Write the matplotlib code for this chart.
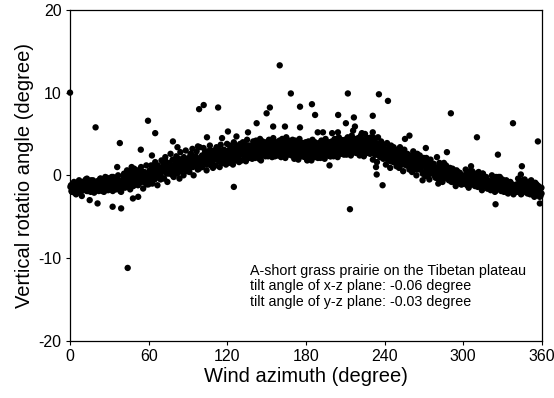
import matplotlib
matplotlib.use("Agg")
import matplotlib.pyplot as plt

plt.rcParams['font.family'] = ['Liberation Sans', 'DejaVu Sans']
plt.rcParams['axes.unicode_minus'] = False

# Dense band of points (wind azimuth in degree, vertical rotation angle in degree)
band_az = [
    0.3, 1.1, 1.8, 2.6, 3.3, 4.2, 4.9, 5.7, 6.5, 7.2, 8.1, 9.0, 9.6,
    10.4, 11.2, 12.0, 12.7, 13.5, 14.3, 15.1, 15.8, 16.6, 17.5, 18.3, 19.1, 19.8,
    20.3, 21.0, 21.9, 22.6, 23.4, 24.2, 25.0, 25.9, 26.7, 27.4, 28.2, 29.1, 29.7,
    30.2, 31.1, 31.8, 32.6, 33.5, 34.2, 35.0, 35.8, 36.7, 37.5, 38.2, 39.0, 39.8,
    40.4, 41.2, 41.9, 42.8, 43.5, 44.3, 45.1, 45.9, 46.6, 47.4, 48.3, 49.0, 49.7,
    50.3, 51.0, 51.9, 52.7, 53.4, 54.2, 55.1, 55.8, 56.6, 57.5, 58.2, 59.0, 59.8,
    60.4, 61.1, 61.9, 62.8, 63.5, 64.3, 65.0, 65.9, 66.7, 67.4, 68.2, 69.1, 69.8,
    70.2, 71.0, 71.8, 72.7, 73.4, 74.3, 75.0, 75.8, 76.7, 77.4, 78.3, 79.1, 79.8,
    80.3, 81.1, 81.9, 82.6, 83.5, 84.2, 85.0, 85.9, 86.6, 87.4, 88.3, 89.0, 89.8,
    90.4, 91.1, 91.9, 92.7, 93.4, 94.3, 95.1, 95.8, 96.6, 97.5, 98.2, 99.0, 99.8,
    100.3, 101.0, 101.9, 102.7, 103.4, 104.2, 105.1, 105.8, 106.7, 107.4, 108.2, 109.1, 109.8,
    110.2, 111.1, 111.8, 112.6, 113.5, 114.2, 115.0, 115.9, 116.7, 117.4, 118.3, 119.0, 119.8,
    120.4, 121.1, 121.9, 122.7, 123.4, 124.3, 125.0, 125.8, 126.7, 127.5, 128.2, 129.0, 129.8,
    130.3, 131.0, 131.9, 132.6, 133.5, 134.2, 135.1, 135.9, 136.6, 137.4, 138.3, 139.0, 139.8,
    140.4, 141.2, 141.9, 142.8, 143.5, 144.3, 145.0, 145.9, 146.6, 147.5, 148.2, 149.1, 149.8,
    150.2, 151.1, 151.8, 152.7, 153.4, 154.2, 155.1, 155.9, 156.6, 157.5, 158.2, 159.0, 159.8,
    160.3, 161.0, 161.9, 162.6, 163.5, 164.3, 165.0, 165.8, 166.7, 167.4, 168.3, 169.1, 169.8,
    170.4, 171.1, 171.9, 172.7, 173.4, 174.2, 175.1, 175.9, 176.6, 177.4, 178.3, 179.0, 179.8,
    180.2, 181.0, 181.9, 182.6, 183.5, 184.2, 185.0, 185.9, 186.7, 187.4, 188.2, 189.1, 189.8,
    190.3, 191.1, 191.8, 192.7, 193.4, 194.3, 195.0, 195.8, 196.6, 197.5, 198.2, 199.0, 199.8,
    200.4, 201.1, 201.9, 202.6, 203.5, 204.2, 205.1, 205.8, 206.7, 207.5, 208.2, 209.0, 209.8,
    210.2, 211.0, 211.9, 212.7, 213.4, 214.3, 215.0, 215.8, 216.7, 217.4, 218.3, 219.1, 219.8,
    220.3, 221.0, 221.9, 222.6, 223.5, 224.2, 225.1, 225.9, 226.6, 227.4, 228.3, 229.0, 229.8,
    230.4, 231.1, 231.9, 232.7, 233.4, 234.2, 235.0, 235.9, 236.6, 237.4, 238.3, 239.0, 239.8,
    240.2, 241.0, 241.9, 242.6, 243.5, 244.3, 245.0, 245.8, 246.7, 247.5, 248.2, 249.1, 249.8,
    250.3, 251.1, 251.8, 252.7, 253.4, 254.2, 255.1, 255.9, 256.6, 257.4, 258.3, 259.0, 259.8,
    260.4, 261.0, 261.9, 262.7, 263.4, 264.3, 265.0, 265.8, 266.7, 267.4, 268.3, 269.1, 269.8,
    270.2, 271.1, 271.9, 272.6, 273.5, 274.2, 275.1, 275.8, 276.7, 277.5, 278.2, 279.0, 279.8,
    280.3, 281.0, 281.9, 282.7, 283.4, 284.2, 285.0, 285.9, 286.6, 287.4, 288.3, 289.1, 289.8,
    290.4, 291.1, 291.9, 292.6, 293.5, 294.3, 295.0, 295.8, 296.7, 297.5, 298.2, 299.0, 299.8,
    300.2, 301.0, 301.9, 302.7, 303.4, 304.2, 305.1, 305.9, 306.6, 307.4, 308.3, 309.0, 309.8,
    310.3, 311.1, 311.8, 312.7, 313.4, 314.3, 315.0, 315.8, 316.6, 317.5, 318.2, 319.1, 319.8,
    320.4, 321.0, 321.9, 322.6, 323.5, 324.2, 325.1, 325.9, 326.6, 327.4, 328.3, 329.0, 329.8,
    330.2, 331.1, 331.9, 332.7, 333.4, 334.3, 335.0, 335.8, 336.7, 337.5, 338.2, 339.0, 339.8,
    340.3, 341.0, 341.9, 342.6, 343.5, 344.2, 345.1, 345.9, 346.6, 347.4, 348.3, 349.1, 349.8,
    350.4, 351.1, 351.9, 352.7, 353.4, 354.3, 355.0, 355.8, 356.7, 357.4, 358.2, 359.0, 359.7,
]
band_angle = [
    -1.4, -1.9, -1.1, -1.7, -2.1, -1.3, -1.6, -0.9, -1.8, -1.2, -2.0, -1.5, -0.8,
    -1.0, -1.6, -0.5, -1.9, -1.2, -0.8, -1.5, -2.0, -1.1, -0.6, -1.7, -1.3, -0.9,
    -1.5, -0.7, -1.9, -1.1, -0.4, -1.6, -1.3, -2.0, -0.9, -1.4, -0.3, -1.8, -1.0,
    -0.8, -1.5, -0.2, -1.9, -1.1, -0.5, -1.7, -1.2, 0.0, -1.4, -0.7, -2.0, -0.9,
    -0.9, 0.2, -1.5, -0.4, 0.6, -1.1, -0.2, -1.7, 0.4, -0.7, -1.3, 0.8, -0.1,
    -0.5, 0.6, -1.2, 0.1, -0.8, 1.0, -0.3, -1.6, 0.4, -0.9, 1.2, -0.1, -1.1,
    0.3, -0.6, 1.2, -1.0, 0.7, -0.2, 1.6, 0.0, -1.2, 1.0, 0.4, -0.5, 1.8,
    0.5, 1.6, -0.4, 2.2, 0.9, -0.8, 1.3, 0.2, 2.6, 0.7, 1.9, -0.2, 1.1,
    1.0, 2.3, 0.2, 1.6, -0.4, 2.8, 0.8, 1.9, 0.0, 1.3, 3.0, 0.5, 2.0,
    1.5, 0.4, 2.6, 1.0, 3.2, 0.0, 2.0, 1.3, 2.9, 0.7, 1.8, 3.4, 1.1,
    2.1, 1.0, 3.3, 1.6, 2.6, 0.6, 2.9, 1.9, 3.6, 1.2, 2.3, 0.9, 3.0,
    2.4, 1.2, 3.4, 1.9, 2.8, 1.0, 3.7, 2.2, 1.5, 3.1, 2.6, 1.3, 3.8,
    2.7, 1.5, 3.6, 2.1, 3.0, 1.3, 4.0, 2.4, 1.8, 3.3, 2.8, 1.6, 3.8,
    3.0, 1.8, 4.0, 2.4, 3.4, 1.7, 4.3, 2.7, 2.1, 3.6, 3.1, 2.0, 4.1,
    3.2, 2.1, 4.2, 2.7, 3.6, 2.0, 4.4, 2.9, 2.4, 3.8, 3.3, 2.3, 4.0,
    3.4, 2.3, 4.3, 2.9, 3.8, 2.2, 4.5, 3.1, 2.6, 4.0, 3.5, 2.5, 4.2,
    3.3, 2.2, 4.4, 2.8, 3.9, 2.1, 4.6, 3.0, 2.5, 4.1, 3.5, 2.4, 4.3,
    3.1, 2.0, 4.2, 2.6, 3.7, 1.9, 4.4, 2.8, 2.3, 3.9, 3.3, 2.2, 4.0,
    3.0, 1.9, 4.1, 2.5, 3.6, 1.8, 4.3, 2.7, 2.2, 3.8, 3.2, 2.1, 3.9,
    3.2, 2.1, 4.2, 2.7, 3.8, 2.0, 4.4, 2.9, 2.4, 4.0, 3.4, 2.3, 4.1,
    3.4, 2.3, 4.4, 2.9, 4.0, 2.2, 4.6, 3.1, 2.6, 4.2, 3.6, 2.5, 4.3,
    3.6, 2.5, 4.6, 3.1, 4.2, 2.4, 4.8, 3.3, 2.8, 4.4, 3.8, 2.7, 4.5,
    3.6, 2.4, 4.8, 3.0, 4.3, 2.3, 5.0, 3.3, 2.7, 4.5, 3.8, 2.6, 4.6,
    3.3, 1.9, 4.5, 2.5, 3.9, 1.6, 4.6, 2.8, 2.2, 4.1, 3.4, 2.0, 3.7,
    2.7, 1.3, 3.9, 2.0, 3.3, 0.9, 3.6, 2.2, 1.6, 3.1, 2.5, 1.1, 2.9,
    2.2, 0.9, 3.4, 1.5, 2.8, 0.5, 3.1, 1.8, 1.2, 2.6, 2.0, 0.7, 2.4,
    1.8, 0.4, 2.9, 1.1, 2.3, 0.0, 2.6, 1.3, 0.7, 2.0, 1.5, 0.2, 1.7,
    1.2, -0.1, 2.1, 0.5, 1.6, -0.5, 1.9, 0.8, 0.2, 1.4, 1.0, -0.3, 0.9,
    0.6, -0.4, 1.5, 0.0, 1.0, -0.8, 1.3, 0.3, -0.2, 0.8, 0.4, -0.6, 0.5,
    0.1, -0.8, 0.8, -0.4, 0.5, -1.3, 0.6, -0.2, -0.9, 0.3, -0.1, -1.1, 0.0,
    -0.2, -1.0, 0.7, -0.6, 0.3, -1.5, 0.5, -0.4, -1.1, 0.1, -0.3, -1.3, -0.5,
    -0.5, -1.4, 0.4, -0.9, 0.0, -1.8, 0.2, -0.7, -1.3, -0.2, -0.6, -1.6, -1.0,
    -1.0, -1.8, 0.0, -1.3, -0.5, -2.0, -0.2, -1.1, -1.6, -0.7, -1.2, -1.9, -1.4,
    -1.4, -2.0, -0.7, -1.7, -1.1, -2.2, -0.9, -1.5, -1.9, -1.2, -1.6, -2.1, -1.3,
    -1.3, -2.0, -0.4, -1.7, -0.9, -2.3, -0.6, -1.4, -1.9, -1.0, -1.5, -2.2, -1.1,
    -1.6, -2.3, -0.6, -2.0, -1.2, -2.6, -0.9, -1.7, -2.2, -1.3, -1.9, -2.5, -1.5,
]

# Second reading of the dense core of the band
core_az = [
    0.7, 1.5, 2.2, 3.0, 3.8, 4.6, 5.3, 6.1, 6.9, 7.7, 8.5, 9.2, 9.9,
    10.5, 11.4, 12.0, 12.9, 13.7, 14.4, 15.2, 16.0, 16.8, 17.5, 18.4, 19.1, 19.8,
    20.7, 21.5, 22.2, 23.0, 23.8, 24.6, 25.3, 26.1, 26.9, 27.7, 28.5, 29.2, 29.9,
    30.5, 31.4, 32.0, 32.9, 33.7, 34.4, 35.2, 36.0, 36.8, 37.5, 38.4, 39.1, 39.8,
    40.7, 41.5, 42.2, 43.0, 43.8, 44.6, 45.3, 46.1, 46.9, 47.7, 48.5, 49.2, 49.9,
    50.5, 51.4, 52.0, 52.9, 53.7, 54.4, 55.2, 56.0, 56.8, 57.5, 58.4, 59.1, 59.8,
    60.7, 61.5, 62.2, 63.0, 63.8, 64.6, 65.3, 66.1, 66.9, 67.7, 68.5, 69.2, 69.9,
    70.5, 71.4, 72.0, 72.9, 73.7, 74.4, 75.2, 76.0, 76.8, 77.5, 78.4, 79.1, 79.8,
    80.7, 81.5, 82.2, 83.0, 83.8, 84.6, 85.3, 86.1, 86.9, 87.7, 88.5, 89.2, 89.9,
    90.5, 91.4, 92.0, 92.9, 93.7, 94.4, 95.2, 96.0, 96.8, 97.5, 98.4, 99.1, 99.8,
    100.7, 101.5, 102.2, 103.0, 103.8, 104.6, 105.3, 106.1, 106.9, 107.7, 108.5, 109.2, 109.9,
    110.5, 111.4, 112.0, 112.9, 113.7, 114.4, 115.2, 116.0, 116.8, 117.5, 118.4, 119.1, 119.8,
    120.7, 121.5, 122.2, 123.0, 123.8, 124.6, 125.3, 126.1, 126.9, 127.7, 128.5, 129.2, 129.9,
    130.5, 131.4, 132.0, 132.9, 133.7, 134.4, 135.2, 136.0, 136.8, 137.5, 138.4, 139.1, 139.8,
    140.7, 141.5, 142.2, 143.0, 143.8, 144.6, 145.3, 146.1, 146.9, 147.7, 148.5, 149.2, 149.9,
    150.5, 151.4, 152.0, 152.9, 153.7, 154.4, 155.2, 156.0, 156.8, 157.5, 158.4, 159.1, 159.8,
    160.7, 161.5, 162.2, 163.0, 163.8, 164.6, 165.3, 166.1, 166.9, 167.7, 168.5, 169.2, 169.9,
    170.5, 171.4, 172.0, 172.9, 173.7, 174.4, 175.2, 176.0, 176.8, 177.5, 178.4, 179.1, 179.8,
    180.7, 181.5, 182.2, 183.0, 183.8, 184.6, 185.3, 186.1, 186.9, 187.7, 188.5, 189.2, 189.9,
    190.5, 191.4, 192.0, 192.9, 193.7, 194.4, 195.2, 196.0, 196.8, 197.5, 198.4, 199.1, 199.8,
    200.7, 201.5, 202.2, 203.0, 203.8, 204.6, 205.3, 206.1, 206.9, 207.7, 208.5, 209.2, 209.9,
    210.5, 211.4, 212.0, 212.9, 213.7, 214.4, 215.2, 216.0, 216.8, 217.5, 218.4, 219.1, 219.8,
    220.7, 221.5, 222.2, 223.0, 223.8, 224.6, 225.3, 226.1, 226.9, 227.7, 228.5, 229.2, 229.9,
    230.5, 231.4, 232.0, 232.9, 233.7, 234.4, 235.2, 236.0, 236.8, 237.5, 238.4, 239.1, 239.8,
    240.7, 241.5, 242.2, 243.0, 243.8, 244.6, 245.3, 246.1, 246.9, 247.7, 248.5, 249.2, 249.9,
    250.5, 251.4, 252.0, 252.9, 253.7, 254.4, 255.2, 256.0, 256.8, 257.5, 258.4, 259.1, 259.8,
    260.7, 261.5, 262.2, 263.0, 263.8, 264.6, 265.3, 266.1, 266.9, 267.7, 268.5, 269.2, 269.9,
    270.5, 271.4, 272.0, 272.9, 273.7, 274.4, 275.2, 276.0, 276.8, 277.5, 278.4, 279.1, 279.8,
    280.7, 281.5, 282.2, 283.0, 283.8, 284.6, 285.3, 286.1, 286.9, 287.7, 288.5, 289.2, 289.9,
    290.5, 291.4, 292.0, 292.9, 293.7, 294.4, 295.2, 296.0, 296.8, 297.5, 298.4, 299.1, 299.8,
    300.7, 301.5, 302.2, 303.0, 303.8, 304.6, 305.3, 306.1, 306.9, 307.7, 308.5, 309.2, 309.9,
    310.5, 311.4, 312.0, 312.9, 313.7, 314.4, 315.2, 316.0, 316.8, 317.5, 318.4, 319.1, 319.8,
    320.7, 321.5, 322.2, 323.0, 323.8, 324.6, 325.3, 326.1, 326.9, 327.7, 328.5, 329.2, 329.9,
    330.5, 331.4, 332.0, 332.9, 333.7, 334.4, 335.2, 336.0, 336.8, 337.5, 338.4, 339.1, 339.8,
    340.7, 341.5, 342.2, 343.0, 343.8, 344.6, 345.3, 346.1, 346.9, 347.7, 348.5, 349.2, 349.9,
    350.5, 351.4, 352.0, 352.9, 353.7, 354.4, 355.2, 356.0, 356.8, 357.5, 358.4, 359.1, 359.8,
]
core_angle = [
    -1.2, -2.0, -1.4, -0.8, -1.7, -2.3, -1.1, -1.6, -0.6, -2.1, -1.3, -1.8, -0.9,
    -1.6, -0.7, -1.3, -0.4, -1.9, -1.0, -1.2, -0.6, -1.5, -0.9, -2.1, -1.1, -1.7,
    -0.8, -1.6, -1.0, -0.4, -1.3, -1.9, -0.7, -1.2, -0.2, -1.7, -0.9, -1.4, -0.5,
    -1.4, -0.5, -1.1, -0.2, -1.7, -0.8, -1.0, -0.4, -1.3, -0.7, -1.9, -0.9, -1.5,
    -0.2, -1.0, -0.4, 0.2, -0.7, -1.3, -0.1, -0.6, 0.4, -1.1, -0.3, -0.8, 0.1,
    -0.6, 0.3, -0.3, 0.6, -0.9, 0.0, -0.2, 0.4, -0.5, 0.1, -1.1, -0.1, -0.7,
    0.6, -0.2, 0.4, 1.0, 0.1, -0.5, 0.7, 0.2, 1.2, -0.3, 0.5, 0.0, 0.9,
    0.5, 1.4, 0.8, 1.7, 0.2, 1.1, 0.9, 1.5, 0.6, 1.2, 0.0, 1.0, 0.4,
    1.6, 0.8, 1.4, 2.0, 1.1, 0.5, 1.7, 1.2, 2.2, 0.7, 1.5, 1.0, 1.9,
    1.3, 2.2, 1.6, 2.5, 1.0, 1.9, 1.7, 2.3, 1.4, 2.0, 0.8, 1.8, 1.2,
    2.4, 1.6, 2.2, 2.8, 1.9, 1.3, 2.5, 2.0, 3.0, 1.5, 2.3, 1.8, 2.7,
    2.0, 2.9, 2.3, 3.2, 1.7, 2.6, 2.4, 3.0, 2.1, 2.7, 1.5, 2.5, 1.9,
    3.0, 2.2, 2.8, 3.4, 2.5, 1.9, 3.1, 2.6, 3.6, 2.1, 2.9, 2.4, 3.3,
    2.6, 3.5, 2.9, 3.8, 2.3, 3.2, 3.0, 3.6, 2.7, 3.3, 2.1, 3.1, 2.5,
    3.5, 2.7, 3.3, 3.9, 3.0, 2.4, 3.6, 3.1, 4.1, 2.6, 3.4, 2.9, 3.8,
    2.9, 3.8, 3.2, 4.1, 2.6, 3.5, 3.3, 3.9, 3.0, 3.6, 2.4, 3.4, 2.8,
    3.6, 2.8, 3.4, 4.0, 3.1, 2.5, 3.7, 3.2, 4.2, 2.7, 3.5, 3.0, 3.9,
    2.8, 3.7, 3.1, 4.0, 2.5, 3.4, 3.2, 3.8, 2.9, 3.5, 2.3, 3.3, 2.7,
    3.4, 2.6, 3.2, 3.8, 2.9, 2.3, 3.5, 3.0, 4.0, 2.5, 3.3, 2.8, 3.7,
    2.8, 3.7, 3.1, 4.0, 2.5, 3.4, 3.2, 3.8, 2.9, 3.5, 2.3, 3.3, 2.7,
    3.7, 2.9, 3.5, 4.1, 3.2, 2.6, 3.8, 3.3, 4.3, 2.8, 3.6, 3.1, 4.0,
    3.2, 4.1, 3.5, 4.4, 2.9, 3.8, 3.6, 4.2, 3.3, 3.9, 2.7, 3.7, 3.1,
    3.9, 3.1, 3.7, 4.3, 3.4, 2.8, 4.0, 3.5, 4.5, 3.0, 3.8, 3.3, 4.2,
    2.8, 3.7, 3.1, 4.0, 2.5, 3.4, 3.2, 3.8, 2.9, 3.5, 2.3, 3.3, 2.7,
    2.8, 2.0, 2.6, 3.2, 2.3, 1.7, 2.9, 2.4, 3.4, 1.9, 2.7, 2.2, 3.1,
    1.6, 2.5, 1.9, 2.8, 1.3, 2.2, 2.0, 2.6, 1.7, 2.3, 1.1, 2.1, 1.5,
    1.8, 1.0, 1.6, 2.2, 1.3, 0.7, 1.9, 1.4, 2.4, 0.9, 1.7, 1.2, 2.1,
    0.4, 1.3, 0.7, 1.6, 0.1, 1.0, 0.8, 1.4, 0.5, 1.1, -0.1, 0.9, 0.3,
    0.6, -0.2, 0.4, 1.0, 0.1, -0.5, 0.7, 0.2, 1.2, -0.3, 0.5, 0.0, 0.9,
    -0.6, 0.3, -0.3, 0.6, -0.9, 0.0, -0.2, 0.4, -0.5, 0.1, -1.1, -0.1, -0.7,
    -0.1, -0.9, -0.3, 0.3, -0.6, -1.2, 0.0, -0.5, 0.5, -1.0, -0.2, -0.7, 0.2,
    -1.1, -0.2, -0.8, 0.1, -1.4, -0.5, -0.7, -0.1, -1.0, -0.4, -1.6, -0.6, -1.2,
    -0.8, -1.6, -1.0, -0.4, -1.3, -1.9, -0.7, -1.2, -0.2, -1.7, -0.9, -1.4, -0.5,
    -1.8, -0.9, -1.5, -0.6, -2.1, -1.2, -1.4, -0.8, -1.7, -1.1, -2.3, -1.3, -1.9,
    -1.1, -1.9, -1.3, -0.7, -1.6, -2.2, -1.0, -1.5, -0.5, -2.0, -1.2, -1.7, -0.8,
    -2.1, -1.2, -1.8, -0.9, -2.4, -1.5, -1.7, -1.1, -2.0, -1.4, -2.6, -1.6, -2.2,
]

# Scattered points away from the band
outlier_az = [
    0.0, 19.5, 38.0, 54.0, 59.5, 65.0, 47.0, 36.0, 98.5, 102.0, 113.0, 125.0, 44.0,
    15.0, 21.0, 32.5, 39.0, 48.0, 52.0, 9.0,
    160.0, 168.5, 212.0, 235.7, 242.6, 175.5, 184.6, 187.0, 204.6, 216.6, 231.0,
    290.6, 338.0, 310.5, 357.0, 326.5, 344.8, 306.0, 198.0, 234.0, 238.5, 156.4,
    155.0, 164.0, 175.5, 259.0, 287.6, 315.0, 328.0, 344.0, 213.6, 324.7, 358.5,
    120.5, 104.5, 116.0, 97.6, 78.5, 82.0, 62.5, 152.5, 150.0, 142.4, 135.8, 127.0,
    145.7, 181.0, 210.5, 217.4, 216.0, 189.0, 193.0, 204.4, 200.0, 222.7, 231.0,
    233.5, 255.6, 271.5, 280.0, 285.3, 269.0, 281.0, 303.0,
]
outlier_angle = [
    10.0, 5.8, 3.9, 3.1, 6.6, 5.1, 1.0, 1.0, 8.0, 8.5, 8.2, -1.4, -11.2,
    -3.0, -3.4, -3.8, -4.0, -2.8, -2.6, -2.5,
    13.3, 9.9, 9.9, 9.8, 9.0, 8.3, 8.6, 7.3, 7.3, 7.0, 7.2,
    7.5, 6.3, 4.6, 4.1, 2.5, 1.1, 1.1, 1.2, 0.1, -1.2, 2.3,
    5.9, 5.9, 5.8, 4.8, 2.8, 0.2, -0.2, 0.1, -4.1, -3.5, -3.4,
    5.3, 4.6, 4.5, 3.5, 4.1, 3.4, 2.4, 8.2, 7.5, 6.3, 5.2, 4.7,
    1.8, 1.8, 6.3, 5.9, 5.4, 5.2, 5.2, 5.2, 5.1, 5.1, 5.2,
    1.0, 4.4, 3.3, 2.2, 1.5, -0.6, -1.0, -1.2,
]

x_ticks = [0, 60, 120, 180, 240, 300, 360]
y_ticks = [-20, -10, 0, 10, 20]
note_lines = [
    "A-short grass prairie on the Tibetan plateau",
    "tilt angle of x-z plane: -0.06 degree",
    "tilt angle of y-z plane: -0.03 degree",
]

fig = plt.figure(figsize=(5.54, 3.98), dpi=100)
ax = fig.add_axes([0.1264, 0.144, 0.8516, 0.831])

for xs, ys in ((band_az, band_angle), (core_az, core_angle), (outlier_az, outlier_angle)):
    ax.scatter(xs, ys, s=21, c='black', edgecolors='none', clip_on=False, zorder=3)

ax.set_xlim(0, 360)
ax.set_ylim(-20, 20)
ax.set_xticks(x_ticks)
ax.set_yticks(y_ticks)
ax.tick_params(direction='out', length=3, width=0.8, labelsize=11.5, colors='black', pad=3)

for sp in ax.spines.values():
    sp.set_linewidth(0.9)
    sp.set_color('black')

ax.set_xlabel("Wind azimuth (degree)", fontsize=14.5, labelpad=2)
ax.set_ylabel("Vertical rotatio angle (degree)", fontsize=14.5, labelpad=3)

ax.text(0.382, 0.232, "\n".join(note_lines), transform=ax.transAxes,
        fontsize=10.3, va='top', ha='left', linespacing=1.12)

fig.savefig("out.png", dpi=100)
